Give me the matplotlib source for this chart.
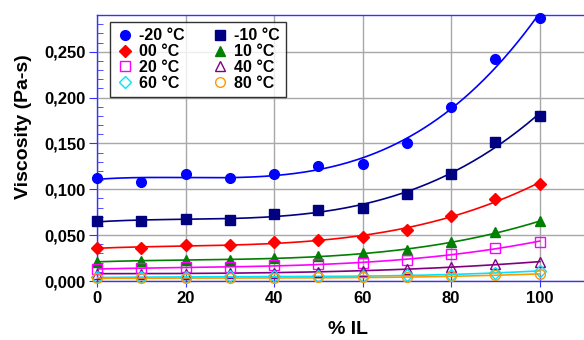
import numpy as np
import matplotlib
matplotlib.use("Agg")
import matplotlib.pyplot as plt
from matplotlib.ticker import MultipleLocator, FuncFormatter

plt.rcParams["font.family"] = ["Liberation Sans", "DejaVu Sans"]
plt.rcParams["font.weight"] = "bold"

pct_il = [0, 10, 20, 30, 40, 50, 60, 70, 80, 90, 100]

visc_m20 = [0.112, 0.108, 0.117, 0.112, 0.117, 0.125, 0.128, 0.150, 0.190, 0.242, 0.287]
visc_m10 = [0.065, 0.065, 0.068, 0.067, 0.073, 0.077, 0.080, 0.095, 0.117, 0.152, 0.180]
visc_00 = [0.036, 0.036, 0.039, 0.039, 0.042, 0.045, 0.048, 0.056, 0.071, 0.089, 0.106]
visc_10 = [0.021, 0.022, 0.023, 0.023, 0.025, 0.027, 0.030, 0.034, 0.042, 0.053, 0.065]
visc_20 = [0.013, 0.014, 0.015, 0.015, 0.017, 0.018, 0.020, 0.023, 0.029, 0.036, 0.043]
visc_40 = [0.008, 0.008, 0.008, 0.009, 0.009, 0.010, 0.011, 0.013, 0.015, 0.018, 0.021]
visc_60 = [0.004, 0.004, 0.004, 0.005, 0.005, 0.005, 0.005, 0.006, 0.007, 0.009, 0.011]
visc_80 = [0.003, 0.003, 0.003, 0.003, 0.003, 0.004, 0.004, 0.004, 0.005, 0.006, 0.008]

labels = ["-20 °C", "-10 °C", "00 °C", "10 °C", "20 °C", "40 °C", "60 °C", "80 °C"]
series = [visc_m20, visc_m10, visc_00, visc_10, visc_20, visc_40, visc_60, visc_80]
colors = ["#0000FF", "#000080", "#FF0000", "#008000", "#FF00FF", "#800080", "#00E5FF", "#FF9900"]
markers = ["o", "s", "D", "^", "s", "^", "D", "o"]
filled = [True, True, True, True, False, False, False, False]

fig = plt.figure(figsize=(5.84, 3.40), dpi=100)
ax = fig.add_axes([97 / 584, 59 / 340, 1 - 97 / 584, 266 / 340])

x = np.array(pct_il, dtype=float)
xs = np.linspace(0, 100, 200)
handles = []
for vals, lab, c, m, f in zip(series, labels, colors, markers, filled):
    # smooth trend line fitted to the measured points
    coef = np.polyfit(x, vals, 3)
    ax.plot(xs, np.polyval(coef, xs), color=c, lw=1.2, zorder=3)
    h, = ax.plot(x, vals, linestyle="none", marker=m, markersize=7 if m != "D" else 6,
                 markerfacecolor=c if f else "none", markeredgecolor=c,
                 markeredgewidth=1.0, label=lab, zorder=4, clip_on=False)
    handles.append(h)

ax.set_xlim(0, 110)
ax.set_ylim(0, 0.29)
ax.xaxis.set_major_locator(MultipleLocator(20))
ax.yaxis.set_major_locator(MultipleLocator(0.05))
ax.yaxis.set_minor_locator(MultipleLocator(0.01))
ax.yaxis.set_major_formatter(FuncFormatter(lambda v, p: f"{v:.3f}".replace(".", ",")))

ax.grid(True, which="major", color="#A8A8A8", lw=1.0, zorder=0)
ax.set_axisbelow(True)

for side in ["left", "top", "bottom"]:
    ax.spines[side].set_color("#3333FF")
    ax.spines[side].set_linewidth(1.0)
ax.spines["right"].set_visible(False)

ax.tick_params(axis="y", which="major", direction="out", length=6, color="#3333FF",
               labelsize=12, pad=2)
ax.tick_params(axis="x", which="major", direction="inout", length=9, color="#3333FF",
               labelsize=12, pad=3)
ax.tick_params(axis="y", which="minor", direction="in", length=4, color="#3333FF")
for t in ax.get_xticklabels() + ax.get_yticklabels():
    t.set_fontweight("bold")

ax.set_xlabel("% IL", fontsize=14, fontweight="bold")
ax.xaxis.set_label_coords(0.515, -0.152)
ax.set_ylabel("Viscosity (Pa-s)", fontsize=14, fontweight="bold")
ax.yaxis.set_label_coords(-0.134, 0.58)

# legend filled row by row: (-20, -10), (00, 10), (20, 40), (60, 80)
order = [0, 2, 4, 6, 1, 3, 5, 7]
leg = ax.legend([handles[i] for i in order], [labels[i] for i in order], ncol=2,
                loc="upper left", bbox_to_anchor=(0.027, 0.974), borderaxespad=0,
                fontsize=11.5, frameon=True, fancybox=False, edgecolor="black",
                handlelength=1.0, handletextpad=0.4, columnspacing=1.7,
                labelspacing=0.05, borderpad=0.4)
leg.get_frame().set_linewidth(1.0)
for t in leg.get_texts():
    t.set_fontweight("bold")

fig.savefig("out.png", dpi=100)
